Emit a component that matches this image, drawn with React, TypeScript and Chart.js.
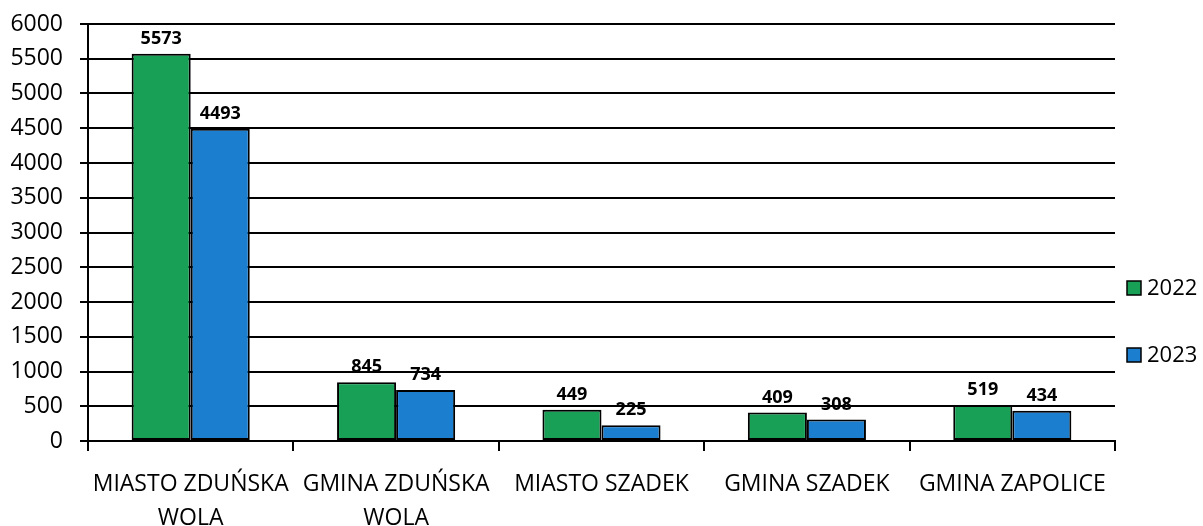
import React, { useEffect, useRef } from "react";
import { Chart, registerables } from "chart.js";

Chart.register(...registerables);

const categories: (string | string[])[] = [
  ["MIASTO ZDUŃSKA", "WOLA"],
  ["GMINA ZDUŃSKA", "WOLA"],
  "MIASTO SZADEK",
  "GMINA SZADEK",
  "GMINA ZAPOLICE",
];
const seriesNames = ["2022", "2023"];
const values2022 = [5573, 845, 449, 409, 519];
const values2023 = [4493, 734, 225, 308, 434];
const yMin = 0;
const yMax = 6000;
const yStep = 500;

const GREEN = "#18a057";
const BLUE = "#1b7ecf";
const FONT = "'Open Sans', sans-serif";

const valueLabels = {
  id: "valueLabels",
  afterDatasetsDraw(chart: any) {
    const ctx = chart.ctx;
    ctx.save();
    ctx.font = `bold 18px ${FONT}`;
    ctx.fillStyle = "#000";
    ctx.textAlign = "center";
    ctx.textBaseline = "bottom";
    chart.data.datasets.forEach((ds: any, i: number) => {
      const meta = chart.getDatasetMeta(i);
      meta.data.forEach((el: any, j: number) => {
        ctx.fillText(String(ds.data[j]), el.x, el.y - 6);
      });
    });
    ctx.restore();
  },
};

const sideLegend = {
  id: "sideLegend",
  afterDraw(chart: any) {
    const ctx = chart.ctx;
    const area = chart.chartArea;
    const x = area.right + 12;
    const ys = [area.top + 264, area.top + 331];
    ctx.save();
    chart.data.datasets.forEach((ds: any, i: number) => {
      const cy = ys[i];
      ctx.fillStyle = ds.backgroundColor;
      ctx.fillRect(x, cy - 7, 14, 14);
      ctx.lineWidth = 1.5;
      ctx.strokeStyle = "#000";
      ctx.strokeRect(x, cy - 7, 14, 14);
      ctx.fillStyle = "#000";
      ctx.font = `22px ${FONT}`;
      ctx.textAlign = "left";
      ctx.textBaseline = "middle";
      ctx.fillText(ds.label, x + 20, cy + 1);
    });
    ctx.restore();
  },
};

export default function App() {
  const ref = useRef<HTMLCanvasElement | null>(null);
  useEffect(() => {
    if (!ref.current) return;
    const chart = new Chart(ref.current, {
      type: "bar",
      data: {
        labels: categories,
        datasets: [
          {
            label: seriesNames[0],
            data: values2022,
            backgroundColor: GREEN,
            borderColor: "#000",
            borderWidth: 2,
            borderSkipped: false,
          },
          {
            label: seriesNames[1],
            data: values2023,
            backgroundColor: BLUE,
            borderColor: "#000",
            borderWidth: 2,
            borderSkipped: false,
          },
        ],
      },
      plugins: [valueLabels, sideLegend],
      options: {
        animation: false,
        responsive: true,
        maintainAspectRatio: false,
        layout: { padding: { top: 24, right: 88, left: 0, bottom: 0 } },
        datasets: { bar: { categoryPercentage: 0.575, barPercentage: 1 } },
        plugins: { legend: { display: false }, tooltip: { enabled: false } },
        scales: {
          x: {
            grid: {
              offset: true,
              drawOnChartArea: false,
              tickLength: 10,
              color: "#000",
              lineWidth: 2,
            },
            border: { color: "#000", width: 2 },
            ticks: {
              color: "#000",
              font: { family: FONT, size: 23, lineHeight: 1.48 },
              padding: 16,
              maxRotation: 0,
              autoSkip: false,
            },
            afterFit(scale: any) {
              scale.height = 85;
            },
          },
          y: {
            min: yMin,
            max: yMax,
            grid: { color: "#000", lineWidth: 2, tickLength: 8 },
            border: { color: "#000", width: 2 },
            ticks: {
              stepSize: yStep,
              color: "#000",
              font: { family: FONT, size: 23, lineHeight: 0.5 },
              padding: 17,
              callback: (v: any) => String(v),
            },
            afterFit(scale: any) {
              scale.width = 88;
            },
          },
        },
      },
    });
    return () => chart.destroy();
  }, []);
  return (
    <div style={{ position: "absolute", left: 0, top: 0, width: 1203, height: 526, background: "#fff" }}>
      <canvas ref={ref} />
    </div>
  );
}
